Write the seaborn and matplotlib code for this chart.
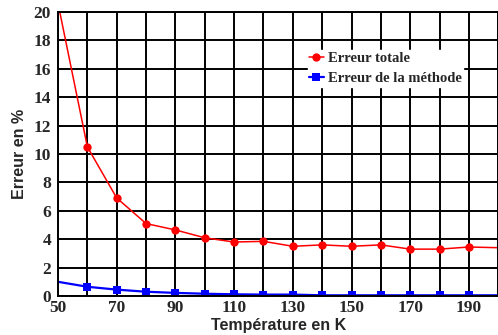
import matplotlib
matplotlib.use("Agg")
import matplotlib.pyplot as plt
import seaborn as sns
import pandas as pd

temperature = [50, 60, 70, 80, 90, 100, 110, 120, 130, 140, 150, 160, 170, 180, 190, 200]
erreur_totale = [20.6, 10.5, 6.9, 5.1, 4.65, 4.1, 3.8, 3.85, 3.5, 3.6, 3.5, 3.6, 3.3, 3.3, 3.45, 3.4]
erreur_methode = [1.0, 0.65, 0.45, 0.3, 0.22, 0.16, 0.12, 0.1, 0.1, 0.05, 0.05, 0.05, 0.05, 0.05, 0.05, 0.05]
x_ticks = [50, 70, 90, 110, 130, 150, 170, 190]
y_ticks = [0, 2, 4, 6, 8, 10, 12, 14, 16, 18, 20]

sns.set_theme(style="white")
plt.rcParams['font.family'] = ['Liberation Serif', 'DejaVu Serif']

df = pd.DataFrame({"T": temperature, "tot": erreur_totale, "meth": erreur_methode})
inner = list(range(1, len(temperature) - 1))

fig = plt.figure(figsize=(4.98, 3.35), dpi=100)
ax = fig.add_axes([0.1165, 0.1164, 0.884, 0.848])

sns.lineplot(data=df, x="T", y="tot", ax=ax, color="#ff0000", marker="o", markersize=6,
             markeredgewidth=0, linewidth=1.1, label="Erreur totale", markevery=inner)
sns.lineplot(data=df, x="T", y="meth", ax=ax, color="#0000ff", marker="s", markersize=5.5,
             markeredgewidth=0, linewidth=1.6, label="Erreur de la méthode", markevery=inner)

ax.set_xlim(50, 200)
ax.set_ylim(0, 20)
ax.set_xticks(range(50, 201, 10))
ax.set_xticklabels([str(t) if t in x_ticks else "" for t in range(50, 201, 10)])
ax.set_yticks(y_ticks)
ax.set_yticklabels([str(v) for v in y_ticks])
ax.grid(True, color="black", linewidth=1.4)
ax.set_axisbelow(True)
for s in ax.spines.values():
    s.set_color("black")
    s.set_linewidth(1.4)
ax.tick_params(axis="both", length=0, labelsize=12.5, pad=5)
ax.tick_params(axis="x", pad=3)
for lbl in ax.get_xticklabels() + ax.get_yticklabels():
    lbl.set_fontweight("bold")

ax.set_xlabel("Température en K", family=["Liberation Sans", "DejaVu Sans"], fontweight="bold",
              fontsize=11.5, labelpad=1.5)
ax.set_ylabel("Erreur en %", family=["Liberation Sans", "DejaVu Sans"], fontweight="bold",
              fontsize=11.5, labelpad=5)

leg = ax.legend(loc="upper left", bbox_to_anchor=(0.567, 0.865), frameon=True, fancybox=False,
                edgecolor="white", framealpha=1, prop={"weight": "bold", "size": 10.5},
                handlelength=1.0, handletextpad=0.3, labelspacing=0.5, borderpad=0.1,
                borderaxespad=0)

fig.savefig("out.png", dpi=100)
